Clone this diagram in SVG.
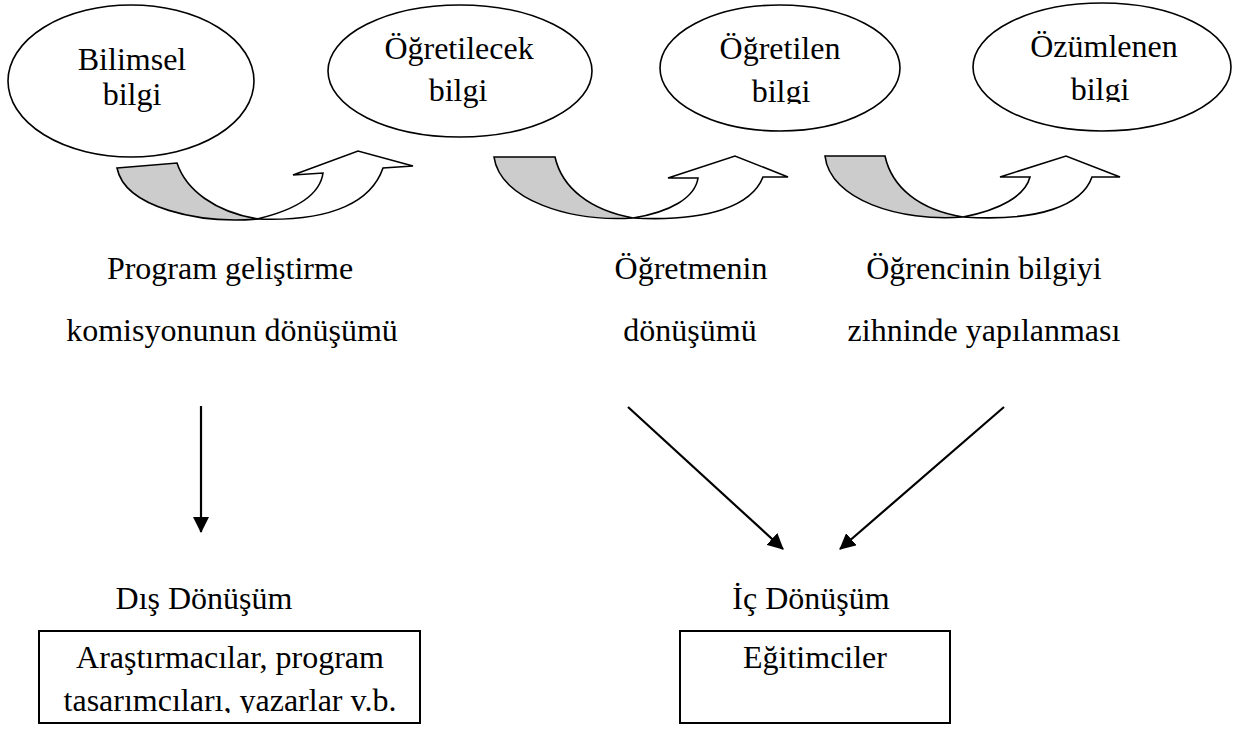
<svg xmlns="http://www.w3.org/2000/svg" width="1249" height="729" viewBox="0 0 1249 729">
<style>
text{font-family:"Liberation Serif","Times New Roman",serif;font-size:32px;fill:#000;text-anchor:middle}
.el{fill:#fff;stroke:#000;stroke-width:1.6}
.box{fill:#fff;stroke:#000;stroke-width:2}
.back{fill:#cccccc;stroke:#000;stroke-width:1.6;stroke-linejoin:miter}
.front{fill:#fff;stroke:#000;stroke-width:1.6;stroke-linejoin:miter}
.con{stroke:#000;stroke-width:2.2;fill:none}
</style>
<defs>
<marker id="ah" viewBox="0 0 16 16" refX="15" refY="8" markerWidth="16" markerHeight="16" markerUnits="userSpaceOnUse" orient="auto">
<path d="M0,0 L16,8 L0,16 Z" fill="#000"/>
</marker>
<clipPath id="c3"><rect x="600" y="0" width="320" height="104"/></clipPath>
<clipPath id="c4"><rect x="960" y="0" width="289" height="102"/></clipPath>
<clipPath id="cb"><rect x="0" y="600" width="500" height="113"/></clipPath>
</defs>

<g id="node-bilimsel">
<ellipse class="el" cx="131" cy="81" rx="123" ry="76"/>
<text x="132" y="70">Bilimsel</text>
<text x="132" y="105">bilgi</text>
</g>
<g id="node-ogretilecek">
<ellipse class="el" cx="460" cy="71" rx="132" ry="66"/>
<text x="459" y="59">Öğretilecek</text>
<text x="458" y="101">bilgi</text>
</g>
<g id="node-ogretilen">
<ellipse class="el" cx="780" cy="68" rx="120" ry="63"/>
<g clip-path="url(#c3)">
<text x="780" y="59">Öğretilen</text>
<text x="781" y="102">bilgi</text>
</g>
</g>
<g id="node-ozumlenen">
<ellipse class="el" cx="1102" cy="67" rx="129" ry="64"/>
<g clip-path="url(#c4)">
<text x="1104" y="57">Özümlenen</text>
<text x="1100" y="100">bilgi</text>
</g>
</g>

<g id="curved-arrows">
<g id="curve1">
<path class="back" d="M117,168 L177,163 C186,190 215,212 258,219 C200,224 125,208 117,168 Z"/>
<path class="front" d="M257,219 C295,210 320,195 323,173 L293,175 L358,151 L413,166 L383,168 C372,200 335,222 257,219 Z"/>
</g>
<g id="curve2">
<path class="back" d="M494,157 L555,157 C562,188 590,210 633,218 C570,222 500,200 494,157 Z"/>
<path class="front" d="M633,218 C670,212 695,198 698,178 L668,178 L735,156 L788,177 L763,177 C752,205 710,222 633,218 Z"/>
</g>
<g id="curve3">
<path class="back" d="M825,156 L885,156 C892,188 920,210 963,217 C900,222 830,200 825,156 Z"/>
<path class="front" d="M963,217 C1000,210 1025,196 1030,177 L1000,177 L1066,156 L1120,177 L1092,177 C1082,205 1040,222 963,217 Z"/>
</g>
</g>

<g id="labels">
<text x="230" y="279">Program geliştirme</text>
<text x="232" y="341">komisyonunun dönüşümü</text>
<text x="691" y="279">Öğretmenin</text>
<text x="690" y="341">dönüşümü</text>
<text x="984" y="279">Öğrencinin bilgiyi</text>
<text x="984" y="341">zihninde yapılanması</text>
</g>

<g id="connectors">
<line class="con" x1="201" y1="406" x2="201" y2="532" marker-end="url(#ah)"/>
<line class="con" x1="628" y1="407" x2="783" y2="549" marker-end="url(#ah)"/>
<line class="con" x1="1004" y1="407" x2="840" y2="549" marker-end="url(#ah)"/>
</g>

<g id="node-dis">
<text x="204" y="609">Dış Dönüşüm</text>
<rect class="box" x="39" y="631" width="381" height="92"/>
<g clip-path="url(#cb)">
<text x="230" y="668">Araştırmacılar, program</text>
<text x="230" y="711">tasarımcıları, yazarlar v.b.</text>
</g>
</g>
<g id="node-ic">
<text x="811" y="609">İç Dönüşüm</text>
<rect class="box" x="680" y="631" width="270" height="92"/>
<text x="815" y="668">Eğitimciler</text>
</g>
</svg>
